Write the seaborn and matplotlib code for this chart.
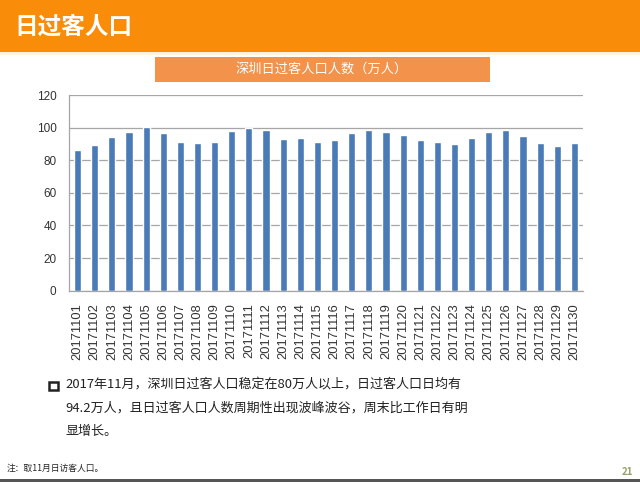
import matplotlib
matplotlib.use("Agg")
import matplotlib.pyplot as plt
import seaborn as sns
import pandas as pd
import numpy as np
from matplotlib.patches import Rectangle

# ---------------- data ----------------
dates = ["201711%02d" % d for d in range(1, 31)]
visitors = [86.0, 89.2, 94.5, 97.4, 100.4, 96.5, 91.2, 90.4, 91.4, 97.8,
            99.8, 98.6, 93.3, 93.9, 91.2, 92.3, 96.9, 98.8, 97.4, 95.3,
            92.5, 91.4, 90.2, 93.7, 97.4, 98.8, 94.9, 90.8, 88.8, 90.6]
yticks = [0, 20, 40, 60, 80, 100, 120]

header_title = "日过客人口"
chart_title = "深圳日过客人口人数（万人）"
bullet_lines = ["2017年11月，深圳日过客人口稳定在80万人以上，日过客人口日均有",
                "94.2万人，且日过客人口人数周期性出现波峰波谷，周末比工作日有明",
                "显增长。"]
footnote = "注：取11月日访客人口。"
page_no = "21"

df = pd.DataFrame({"date": dates, "visitors": visitors})

# ---------------- figure ----------------
sns.set_theme(style="white")
plt.rcParams['font.family'] = ['Noto Sans CJK SC', 'DejaVu Sans']

W, H = 640, 482
fig = plt.figure(figsize=(W / 100, H / 100), dpi=100)
fig.patch.set_facecolor("white")


def fx(x):
    return x / W


def fy(y):
    return 1 - y / H


# header band
fig.patches.append(Rectangle((0, fy(51.5)), 1, 51.5 / H, transform=fig.transFigure,
                             facecolor="#F98D0A", edgecolor="none", zorder=0))
fig.patches.append(Rectangle((0, fy(55)), 1, 3.5 / H, transform=fig.transFigure,
                             facecolor="#FFF3DC", edgecolor="none", zorder=0))
fig.text(fx(14), fy(27), header_title, color="white", fontsize=17, fontweight="bold",
         ha="left", va="center")

# chart title box
fig.patches.append(Rectangle((fx(155), fy(82)), fx(490) - fx(155), 25 / H,
                             transform=fig.transFigure, facecolor="#F2924B",
                             edgecolor="none", zorder=0))
fig.text(fx(322), fy(69.5), chart_title, color="white", fontsize=9.5,
         ha="center", va="center")

# ---------------- chart ----------------
ax = fig.add_axes([fx(69), fy(290.7), fx(583) - fx(69), (290.7 - 95) / H])
sns.barplot(data=df, x="date", y="visitors", color="#4B7BB6", saturation=1,
            width=0.42, ax=ax)
ax.set_xlim(-0.5, len(dates) - 0.5)
ax.set_ylim(0, 120)
ax.set_yticks(yticks)
ax.set_xlabel("")
ax.set_ylabel("")
ax.yaxis.grid(True, color="#A6A6A6", linewidth=0.9)
ax.set_axisbelow(True)
for s in ["top", "right"]:
    ax.spines[s].set_visible(False)
for s in ["left", "bottom"]:
    ax.spines[s].set_color("#A6A6A6")
    ax.spines[s].set_linewidth(0.9)
ax.tick_params(axis="y", which="major", length=3, width=0.8, color="#A6A6A6",
               pad=6, labelsize=8.5, labelcolor="#333333")
ax.set_yticklabels([str(v) for v in yticks], family=["Liberation Sans", "DejaVu Sans"])
ax.tick_params(axis="x", which="major", length=0, pad=9, labelsize=9.3,
               labelcolor="#333333", labelrotation=90)
ax.set_xticks(range(len(dates)))
ax.set_xticklabels(dates, family=["Liberation Sans", "DejaVu Sans"])
ax.set_xticks(np.arange(-0.5, len(dates)), minor=True)
ax.tick_params(axis="x", which="minor", length=3.5, width=0.8, color="#A6A6A6")

# ---------------- text block ----------------
fig.patches.append(Rectangle((fx(49), fy(390)), 8.5 / W, 8.5 / H,
                             transform=fig.transFigure, facecolor="white",
                             edgecolor="#222222", linewidth=1.8, zorder=2))
for i, line in enumerate(bullet_lines):
    fig.text(fx(65), fy(385 + 23 * i), line, fontsize=9.4, color="#222222",
             ha="left", va="center")

fig.text(fx(7), fy(468), footnote, fontsize=6.3, color="#222222", ha="left", va="center")
fig.text(fx(633), fy(472), page_no, fontsize=7, color="#9A9F6A", ha="right",
         va="center", fontweight="bold")

# bottom line
fig.patches.append(Rectangle((0, 0), 1, 3 / H, transform=fig.transFigure,
                             facecolor="#555555", edgecolor="none", zorder=0))

fig.savefig("out.png", dpi=100)
